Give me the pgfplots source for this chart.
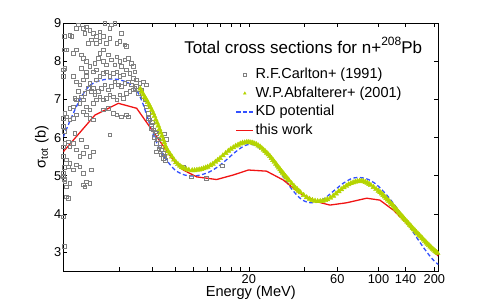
\documentclass[border=0pt]{standalone}
\usepackage{pgfplots}
\pgfplotsset{compat=1.18}
\usepackage{fontspec}
\setmainfont{Liberation Sans}
\definecolor{cgray}{RGB}{128,128,128}
\definecolor{cgreen}{RGB}{180,212,0}
\definecolor{cblue}{RGB}{50,80,255}
\definecolor{cred}{RGB}{240,20,20}
\begin{document}
\begin{tikzpicture}
\useasboundingbox (0,0) rectangle (485pt,305pt);
\begin{axis}[
  at={(63.3pt,34pt)}, anchor=south west,
  scale only axis, width=375pt, height=247.7pt,
  xmode=log, xmin=2, xmax=210, ymin=2.5, ymax=9,
  xtick={4,6,8,10,12,14,16,18,20,40,60,100,140,200},
  xticklabels={,,,,,,,,20,,60,100,140,200},
  xminorticks=false,
  ytick={3,4,5,6,7,8,9},
  tick align=inside, major tick length=4pt,
  axis line style={black, line width=0.6pt},
  every tick/.style={black, line width=0.5pt},
  /pgf/number format/assume math mode=true,
  ticklabel style={font=\fontsize{12.8}{15}\selectfont},
  yticklabel style={xshift=1.5pt},
  xlabel={Energy (MeV)},
  xlabel style={at={(axis description cs:0.5,-0.089)}, anchor=center, font=\fontsize{14.6}{17}\selectfont},
  ylabel={σ\textsubscript{tot} (b)},
  ylabel style={at={(axis description cs:-0.057,0.5)}, anchor=center, font=\fontsize{14.6}{17}\selectfont},
  legend style={at={(axis description cs:0.459,0.831)}, anchor=north west, draw=none, fill=none, inner sep=0pt,
    font=\fontsize{14.5}{17}\selectfont,
    nodes={inner xsep=1.5pt, inner ysep=2.6pt, text height=10.5pt, text depth=3pt}},
  legend cell align=left,
]
% R.F.Carlton+ (1991)
\addplot[only marks, mark=square, mark size=1.8pt, cgray, mark options={line width=0.75pt},
  legend image post style={mark size=1.4pt}] coordinates {
(2.17,8.69)(2.22,8.65)(2.36,8.87)(2.41,8.955)(2.565,8.87)(2.67,8.91)(2.785,8.82)(2.90,8.737)(3.025,8.65)(3.15,8.78)
(3.29,8.65)(3.355,9.0)(3.57,8.87)(3.64,8.955)(3.80,9.0)(4.125,8.737)(2.62,8.737)(2.73,8.474)(2.84,8.56)(3.025,8.474)
(3.15,8.518)(3.42,8.474)(3.57,8.605)(3.88,8.474)(4.04,8.518)(4.39,8.387)(4.30,8.43)
(2.085,8.30)(2.265,8.212)(2.36,8.30)(2.51,8.168)(2.565,8.08)(2.67,7.993)(2.785,7.862)(2.96,7.949)(3.09,8.08)(3.15,8.212)
(3.29,8.30)(3.50,8.168)(3.64,8.037)(3.88,8.124)(4.04,7.993)(4.30,8.037)(4.48,8.08)(4.67,7.949)(4.77,7.862)(4.87,7.73)
(4.125,7.862)(3.80,7.905)(3.42,7.905)(3.29,7.993)(3.025,7.774)(2.90,7.73)(2.67,7.73)(2.51,7.818)(2.04,7.818)(2.00,7.774)
(2.265,7.6)(2.36,7.468)(2.46,7.381)(2.565,7.512)(2.67,7.6)(2.785,7.424)(2.90,7.293)(3.025,7.512)(3.15,7.6)(3.29,7.687)
(3.42,7.73)(3.57,7.6)(3.72,7.687)(3.88,7.73)(4.04,7.6)(4.21,7.643)(4.39,7.774)(4.575,7.687)(4.77,7.556)(4.97,7.512)
(5.18,7.424)(5.40,7.468)(5.625,7.381)(4.87,7.293)(4.67,7.381)(4.48,7.468)(4.30,7.424)(4.125,7.337)(3.96,7.381)(3.80,7.468)
(3.64,7.337)(3.50,7.249)(3.355,7.381)(3.22,7.293)(3.09,7.206)(2.96,7.118)(2.84,7.206)(2.73,7.293)(2.62,7.162)(2.51,7.074)
(2.41,7.206)(2.31,7.031)
(2.17,6.768)(2.265,6.812)(2.36,6.987)(2.46,6.899)(2.565,6.987)(2.67,6.812)(2.785,6.724)(2.90,6.899)(3.025,6.987)(3.15,7.074)
(3.29,6.987)(3.42,7.031)(3.57,7.118)(3.72,7.074)(3.88,6.987)(4.04,7.118)(4.21,7.031)(4.39,7.162)(4.575,7.206)(4.77,7.249)
(4.97,7.337)(5.07,7.162)(5.29,7.249)(5.40,7.074)(5.51,6.987)
(2.04,6.637)(2.085,6.549)(2.17,6.462)(2.265,6.506)(2.36,6.593)(2.565,6.68)(2.67,6.593)(2.785,6.506)(2.90,6.462)(3.29,6.724)
(3.50,6.768)(3.72,6.637)(3.88,6.593)(4.125,6.549)(4.39,6.593)(4.48,6.549)(3.57,6.068)(5.625,6.812)(5.74,6.637)(5.86,6.462)
(5.985,6.33)(6.11,6.2)
(2.00,5.762)(2.04,5.849)(2.13,5.893)(2.17,5.762)(2.265,5.849)(2.36,5.674)(2.46,5.5)(2.565,5.587)(2.67,5.762)(2.785,5.5)
(2.90,5.63)(2.51,5.937)(2.31,6.112)(6.37,6.112)(6.50,5.937)(6.64,5.762)(6.78,5.674)(6.92,5.587)(7.06,5.5)(6.37,5.63)
(2.085,5.412)(2.13,5.237)(2.17,5.325)(2.265,5.15)(2.36,5.281)(2.46,5.237)(2.565,5.062)(2.67,4.843)(2.785,4.8)(2.00,4.975)
(2.04,4.843)(2.085,4.712)(2.17,4.8)(2.565,4.756)(2.62,4.712)(2.84,5.15)(8.87,5.237)(9.83,4.975)(11.84,4.93)
(2.085,4.45)(2.13,4.406)(2.00,3.925)(2.02,3.14)
(2.0,6.5)(2.0,6.3)(2.02,6.16)(2.0,5.5)(2.02,5.22)(2.0,5.07)(2.03,4.9)(2.02,8.65)(2.03,8.3)(2.0,7.6)
(7.0,6.1)(7.2,5.95)(14.45,5.26)
(5.75,6.5)(5.95,6.25)(6.15,6.0)(6.35,5.85)(6.55,5.7)(6.75,5.55)(6.95,5.45)(7.1,5.4)(6.05,6.4)(6.25,6.15)(6.45,5.95)
};
\addlegendentry{R.F.Carlton+ (1991)}
% W.P.Abfalterer+ (2001)
\addplot[only marks, mark=triangle*, mark size=2.9pt, cgreen,
  legend image post style={mark size=1.6pt}] coordinates {
(5.2,7.28)(5.3,7.2)(5.4,7.13)(5.5,7.06)(5.6,7.0)(5.7,6.93)(5.8,6.86)(5.9,6.79)(6.0,6.72)(6.1,6.64)
(6.2,6.56)(6.3,6.47)(6.4,6.39)(6.5,6.31)(6.6,6.22)(6.7,6.13)(6.8,6.04)(6.9,5.95)(7.0,5.87)(7.1,5.78)
(7.2,5.71)(7.35,5.64)(7.5,5.58)(7.7,5.5)(7.9,5.42)(8.1,5.35)(8.3,5.3)(8.5,5.26)(8.7,5.22)(8.9,5.2)
(9.2,5.17)(9.5,5.15)(9.9,5.14)(10.2,5.14)(10.5,5.15)(10.8,5.16)(11.1,5.17)(11.4,5.19)(11.7,5.21)(12.0,5.23)
(12.4,5.27)(12.8,5.31)(13.2,5.36)(13.6,5.41)(14.0,5.46)(14.5,5.53)(15.0,5.59)(15.5,5.65)(16.0,5.7)(16.5,5.74)
(17.0,5.78)(17.5,5.81)(18.0,5.84)(18.5,5.86)(19.0,5.87)(19.5,5.88)(20.0,5.88)(20.5,5.87)(21.0,5.86)(21.5,5.84)
(22.0,5.82)(22.5,5.79)(23.0,5.76)(23.5,5.72)(24.0,5.68)(24.5,5.64)(25.0,5.6)(25.5,5.555)(26.0,5.51)(26.5,5.46)(27.0,5.41)(27.5,5.36)(28.0,5.31)
(28.5,5.26)(29.0,5.21)(29.5,5.165)(30.0,5.12)(30.5,5.075)(31.0,5.03)(31.5,4.99)(32.0,4.95)(32.5,4.91)(33.0,4.87)(34.0,4.8)(35.0,4.73)(35.7,4.68)(36.5,4.64)(37.2,4.6)(38.0,4.56)(39.5,4.49)
(41.0,4.43)(42.5,4.39)(44.0,4.36)(45.5,4.34)(47.0,4.33)(48.5,4.33)(50.0,4.34)(51.5,4.36)(53.0,4.38)(55.0,4.42)
(57.0,4.47)(59.0,4.53)(61.0,4.59)(63.0,4.64)(65.0,4.69)(67.0,4.73)(69.0,4.77)(71.0,4.8)(73.0,4.82)(75.0,4.84)
(77.0,4.85)(79.0,4.86)(81.0,4.86)(83.0,4.85)(85.0,4.83)(87.0,4.81)(89.0,4.78)(91.0,4.75)(94.0,4.7)(97.0,4.65)
(100,4.6)(102,4.565)(104,4.53)(106,4.49)(108,4.45)(110,4.41)(112,4.37)(114,4.33)(116,4.29)(118,4.25)(120,4.21)(122,4.17)(124,4.13)(126,4.09)(128,4.05)(130,4.01)(132,3.97)(134,3.935)(136,3.9)
(138,3.865)(140,3.83)(142.5,3.79)(145,3.75)(147.5,3.71)(150,3.67)(152.5,3.63)(155,3.59)(157.5,3.555)(160,3.52)(163,3.48)(166,3.44)(169,3.4)(172,3.36)(175,3.32)(178,3.28)(181,3.245)(184,3.21)(187,3.175)(190,3.14)
(193,3.11)(196,3.08)(199,3.05)(202,3.02)(205,2.995)(208,2.97)
};
\addlegendentry{W.P.Abfalterer+ (2001)}
% KD potential
\addplot[cblue, line width=1.3pt, dash pattern=on 4pt off 2.5pt, smooth] coordinates {
(2.0,6.02)(2.2,6.5)(2.4,6.9)(2.6,7.2)(2.8,7.38)(3.0,7.46)(3.3,7.52)(3.6,7.54)(3.9,7.53)(4.2,7.49)
(4.5,7.43)(4.8,7.32)(5.0,7.22)(5.2,7.06)(5.4,6.86)(5.6,6.63)(5.8,6.4)(6.0,6.18)(6.3,5.92)(6.6,5.72)
(7.0,5.5)(7.5,5.3)(8.0,5.15)(8.5,5.07)(9.0,5.02)(9.5,5.0)(10,4.99)(10.5,5.0)(11,5.02)(12,5.08)
(13,5.17)(14,5.28)(15,5.4)(16,5.52)(17,5.63)(18,5.72)(19,5.79)(20,5.82)(21,5.82)(22,5.78)
(23,5.72)(24,5.65)(25,5.57)(27,5.39)(29,5.16)(31,4.94)(33,4.74)(35,4.58)(37,4.45)(39,4.36)
(41,4.31)(43,4.29)(45,4.29)(47,4.31)(50,4.37)(53,4.46)(56,4.56)(60,4.68)(64,4.79)(68,4.87)
(72,4.93)(76,4.95)(80,4.95)(85,4.93)(90,4.88)(95,4.81)(100,4.72)(110,4.51)(120,4.28)(130,4.05)
(140,3.83)(150,3.6)(160,3.39)(170,3.2)(180,3.03)(190,2.88)(200,2.76)(210,2.67)
};
\addlegendentry{KD potential}
% this work
\addplot[cred, line width=1.3pt] coordinates {
(2.0,5.63)(2.96,6.59)(3.96,6.9)(4.97,6.77)(7.83,5.41)(8.87,5.15)(10.47,4.97)(13.4,4.9)(16.5,5.02)(19.9,5.15)
(24.9,5.12)(30.6,4.89)(37.7,4.54)(46.4,4.32)(54.7,4.23)(67.3,4.29)(86.3,4.41)(101.7,4.36)(120,4.1)(141.6,3.75)
(167,3.4)(210,2.89)
};
\addlegendentry{this work}
\node[anchor=base west, font=\fontsize{17}{20}\selectfont, inner sep=0pt] at (axis description cs:0.322,0.879)
  {Total cross sections for n+\raisebox{8pt}{\fontsize{12}{14}\selectfont 208}Pb};
\end{axis}
\end{tikzpicture}
\end{document}
